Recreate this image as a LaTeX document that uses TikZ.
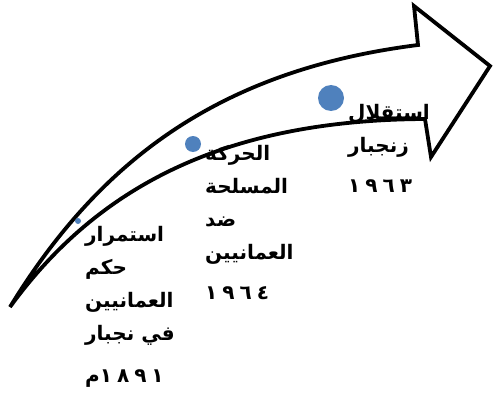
\documentclass[tikz,border=0pt]{standalone}
\usepackage{fontspec}
\newfontfamily\arabicfont[Script=Arabic]{DejaVu Sans}
\newfontfamily\arabicdig[Script=Arabic,LetterSpace=25]{DejaVu Sans}
\TeXXeTstate=1
\definecolor{dotblue}{HTML}{4F81BD}
\tikzset{
  arrowline/.style={line width=3.8pt, line join=miter, miter limit=10, draw=black},
  dot/.style={circle, fill=dotblue, draw=none, inner sep=0pt},
  lbl/.style={anchor=north west, align=left, inner sep=0pt,
    font=\arabicfont\bfseries\fontsize{20}{33}\selectfont}
}
\newcommand{\yr}[1]{{\arabicdig\bfseries #1}}
\begin{document}
\begin{tikzpicture}[x=1pt,y=-1pt]
\useasboundingbox (0,0) rectangle (493,404);
% curved arrow
\coordinate (tail) at (10,307);
\coordinate (ue) at (418,45);
\coordinate (hb1) at (414,6);
\coordinate (tip) at (490,66);
\coordinate (hb2) at (431,157);
\coordinate (le) at (425,119);
\draw[arrowline] (tail) .. controls (100,160) and (220,70) .. (ue)
  -- (hb1) -- (tip) -- (hb2) -- (le)
  .. controls (230,120) and (100,183) .. cycle;
% dots
\node[dot, minimum size=6pt] (d1) at (78,221) {};
\node[dot, minimum size=16pt] (d2) at (193,144) {};
\node[dot, minimum size=26pt] (d3) at (331,98) {};
% labels
\node[lbl] (t1) at (85,226) {\beginR استمرار\endR\\ \beginR حكم\endR\\ \beginR العمانيين\endR\\ \beginR في نجبار\endR\\[9pt] \beginR\beginL\yr{١٨٩١}\endL{}م\endR};
\node[lbl] (t2) at (205,145) {\beginR الحركة\endR\\ \beginR المسلحة\endR\\ \beginR ضد\endR\\ \beginR العمانيين\endR\\[7pt] \beginL\yr{١٩٦٤}\endL};
\node[lbl] (t3) at (348,104) {\beginR استقلال\endR\\ \beginR زنجبار\endR\\[7pt] \beginL\yr{١٩٦٣}\endL};
\end{tikzpicture}
\end{document}
